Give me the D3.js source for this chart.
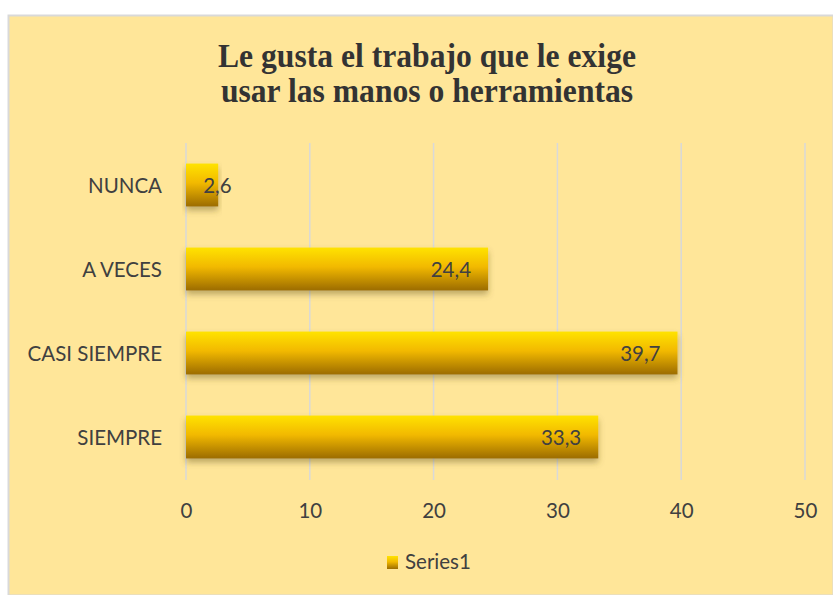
<!DOCTYPE html>
<html>
<head>
<meta charset="utf-8">
<script src="https://cdn.jsdelivr.net/npm/d3@7"></script>
<style>
  body { margin: 0; background: #fff; }
</style>
</head>
<body>
<div id="root"></div>
<script>
var categories = ['NUNCA', 'A VECES', 'CASI SIEMPRE', 'SIEMPRE'];
var values = [2.6, 24.4, 39.7, 33.3];
var ticks = [0, 10, 20, 30, 40, 50];
var seriesName = 'Series1';
var titleLines = ['Le gusta el trabajo que le exige', 'usar las manos o herramientas'];

var w = 833, h = 595;
var svg = d3.select('#root').append('svg')
  .attr('width', w)
  .attr('height', h);

var defs = svg.append('defs');
var grad = defs.append('linearGradient')
  .attr('id', 'barGrad')
  .attr('x1', 0).attr('y1', 0).attr('x2', 0).attr('y2', 1);
grad.append('stop').attr('offset', '0%').attr('stop-color', '#FFE300');
grad.append('stop').attr('offset', '45%').attr('stop-color', '#F2B900');
grad.append('stop').attr('offset', '100%').attr('stop-color', '#9C6C00');
var shadow = defs.append('filter').attr('id', 'shadow')
  .attr('x', '-10%').attr('y', '-20%').attr('width', '120%').attr('height', '160%');
shadow.append('feDropShadow')
  .attr('dx', 0).attr('dy', 4).attr('stdDeviation', 3)
  .attr('flood-color', '#6b5a20').attr('flood-opacity', 0.45);

// chart background
svg.append('rect')
  .attr('x', 8.5).attr('y', 15.5)
  .attr('width', w - 8).attr('height', h - 15)
  .attr('fill', '#FFE699')
  .attr('stroke', '#D9D9D9')
  .attr('stroke-width', 2);

// title (condensed serif), one text per line
svg.append('g')
  .attr('transform', 'translate(427,0) scale(0.93,1)')
  .selectAll('text')
  .data(titleLines)
  .enter()
  .append('text')
  .attr('text-anchor', 'middle')
  .attr('x', 0)
  .attr('y', function(d, i) { return 67 + i * 35; })
  .style('font-family', '"Liberation Serif", "Times New Roman", serif')
  .style('font-weight', 'bold')
  .style('font-size', '34px')
  .attr('fill', '#333')
  .text(function(d) { return d; });

var x = d3.scaleLinear().domain([0, 50]).range([186, 805]);
var y = d3.scaleBand().domain(categories).range([143, 479]).paddingInner(0.49).paddingOuter(0.245);

// gridlines
svg.append('g')
  .selectAll('line')
  .data(ticks)
  .enter()
  .append('line')
  .attr('x1', function(d) { return x(d); })
  .attr('x2', function(d) { return x(d); })
  .attr('y1', 143)
  .attr('y2', 480)
  .attr('stroke', '#D9D9D9')
  .attr('stroke-width', 1.5);

// bars
svg.append('g')
  .selectAll('rect')
  .data(values)
  .enter()
  .append('rect')
  .attr('x', x(0))
  .attr('y', function(d, i) { return y(categories[i]); })
  .attr('width', function(d) { return x(d) - x(0); })
  .attr('height', y.bandwidth())
  .attr('fill', 'url(#barGrad)')
  .attr('filter', 'url(#shadow)');

var fontSans = 'Lato, "Open Sans", sans-serif';

// value labels
svg.append('g')
  .selectAll('text')
  .data(values)
  .enter()
  .append('text')
  .attr('x', function(d) { return d < 5 ? x(d) - 15 : x(d) - 17; })
  .attr('y', function(d, i) { return y(categories[i]) + y.bandwidth() / 2 + 8; })
  .attr('text-anchor', function(d) { return d < 5 ? 'start' : 'end'; })
  .style('font-family', fontSans)
  .style('font-size', '20.5px')
  .attr('fill', '#404040')
  .text(function(d) { return String(d).replace('.', ','); });

// category labels
svg.append('g')
  .selectAll('text')
  .data(categories)
  .enter()
  .append('text')
  .attr('x', 162)
  .attr('y', function(d) { return y(d) + y.bandwidth() / 2 + 8; })
  .attr('text-anchor', 'end')
  .style('font-family', fontSans)
  .style('font-size', '20.5px')
  .attr('fill', '#404040')
  .text(function(d) { return d; });

// x axis labels
var xAxis = d3.axisBottom(x).tickValues(ticks).tickSize(0).tickPadding(0);
var ax = svg.append('g')
  .attr('transform', 'translate(0,518)')
  .call(xAxis);
ax.select('.domain').remove();
ax.selectAll('text')
  .attr('dy', 0)
  .style('font-family', fontSans)
  .style('font-size', '20.5px')
  .attr('fill', '#404040');

// legend
var lg = svg.append('g').attr('transform', 'translate(387,556)');
lg.append('rect')
  .attr('width', 11).attr('height', 13)
  .attr('fill', 'url(#barGrad)');
lg.append('text')
  .attr('x', 18).attr('y', 13)
  .style('font-family', fontSans)
  .style('font-size', '20.5px')
  .attr('fill', '#404040')
  .text(seriesName);
</script>
</body>
</html>
